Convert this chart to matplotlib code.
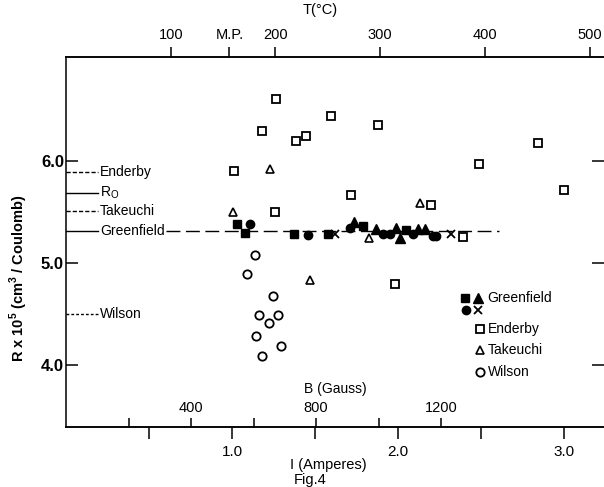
import matplotlib.pyplot as plt

plt.rcParams['font.family'] = ['Liberation Sans', 'DejaVu Sans']
plt.rcParams['font.size'] = 10
plt.rcParams['mathtext.fontset'] = 'custom'
plt.rcParams['mathtext.rm'] = 'Liberation Sans'
plt.rcParams['mathtext.bf'] = 'Liberation Sans:bold'

# current I (Amperes) and R x 10^5 for each source
enderby_i = [1.014, 1.18, 1.265, 1.26, 1.385, 1.446, 1.596, 1.715, 1.878, 1.98, 2.20, 2.39, 2.49, 2.842, 3.00]
enderby_r = [5.90, 6.29, 6.61, 5.50, 6.20, 6.24, 6.44, 5.67, 6.35, 4.80, 5.57, 5.26, 5.97, 6.18, 5.72]

takeuchi_i = [1.008, 1.23, 1.47, 1.825, 2.13]
takeuchi_r = [5.50, 5.92, 4.84, 5.25, 5.59]

wilson_i = [1.14, 1.09, 1.245, 1.165, 1.28, 1.225, 1.145, 1.293, 1.18]
wilson_r = [5.08, 4.89, 4.68, 4.49, 4.49, 4.41, 4.29, 4.19, 4.09]

green_sq_i = [1.03, 1.08, 1.375, 1.58, 1.79, 2.05]
green_sq_r = [5.385, 5.30, 5.29, 5.29, 5.36, 5.32]
green_ci_i = [1.108, 1.455, 1.71, 1.91, 1.95, 2.09, 2.21, 2.23]
green_ci_r = [5.385, 5.28, 5.34, 5.29, 5.29, 5.29, 5.27, 5.27]
green_tr_i = [1.735, 1.87, 1.99, 2.01, 2.12, 2.16]
green_tr_r = [5.40, 5.33, 5.34, 5.25, 5.33, 5.33]
green_x_i = [1.62, 2.32]
green_x_r = [5.29, 5.29]

# literature values marked on the left axis
ref_names = ['Enderby', 'R$_\\mathrm{O}$', 'Takeuchi', 'Greenfield', 'Wilson']
ref_values = [5.89, 5.69, 5.51, 5.31, 4.50]
ref_styles = [(0, (3, 1.5)), '-', (0, (3, 1.5)), '-', (0, (2, 1.5))]

# secondary scales
amp_ticks = [0.5, 1.0, 1.5, 2.0, 2.5, 3.0]
amp_labels = ['', '1.0', '', '2.0', '', '3.0']
gauss_ticks = [200, 400, 600, 800, 1000, 1200]
gauss_labels = ['', '400', '', '800', '', '1200']
temp_ticks = [100, 156, 200, 300, 400, 500]
temp_labels = ['100', 'M.P.', '200', '300', '400', '500']

fig = plt.figure(figsize=(6.04, 4.87), dpi=100)
ax = fig.add_axes([66 / 604, 1 - 426.7 / 487, 538 / 604, 370 / 487])
ax.set_xlim(0, 3.241)
ax.set_ylim(3.40, 7.02)

k = 'black'
ax.spines['right'].set_visible(False)
for s in ['left', 'top', 'bottom']:
    ax.spines[s].set_linewidth(1.1)

# reference lines
for name, v, ls in zip(ref_names, ref_values, ref_styles):
    ax.plot([0, 0.195], [v, v], color=k, lw=1.0, linestyle=ls)
    ax.text(0.205, v, name, va='center', ha='left', fontsize=10)
ax.plot([0.60, 2.61], [ref_values[3], ref_values[3]], color=k, lw=1.0, dashes=(10, 4))

ax.plot(enderby_i, enderby_r, 's', ms=5.5, mfc='white', mec=k, mew=1.3, ls='none')
ax.plot(takeuchi_i, takeuchi_r, '^', ms=6, mfc='white', mec=k, mew=1.2, ls='none')
ax.plot(wilson_i, wilson_r, 'o', ms=6, mfc='white', mec=k, mew=1.3, ls='none')
ax.plot(green_sq_i, green_sq_r, 's', ms=5.5, color=k, ls='none')
ax.plot(green_ci_i, green_ci_r, 'o', ms=6, color=k, ls='none')
ax.plot(green_tr_i, green_tr_r, '^', ms=6.5, color=k, ls='none')
ax.plot(green_x_i, green_x_r, 'x', ms=6, color=k, mew=1.3, ls='none')

# legend drawn by hand
def fx(px):
    return (px - 66) / 538


def fy(py):
    return (426.7 - py) / 370


leg = dict(transform=ax.transAxes, clip_on=False, ls='none')
ax.plot(fx(465), fy(298), 's', ms=5.5, color=k, **leg)
ax.plot(fx(478), fy(297.5), '^', ms=6.5, color=k, **leg)
ax.plot(fx(465.5), fy(309.5), 'o', ms=6, color=k, **leg)
ax.plot(fx(478), fy(310), 'x', ms=6, color=k, mew=1.3, **leg)
ax.plot(fx(480), fy(328.5), 's', ms=5.5, mfc='white', mec=k, mew=1.3, **leg)
ax.plot(fx(479.5), fy(350), '^', ms=6, mfc='white', mec=k, mew=1.2, **leg)
ax.plot(fx(480), fy(372), 'o', ms=6, mfc='white', mec=k, mew=1.3, **leg)
for txt, py in [('Greenfield', 298), ('Enderby', 328.5), ('Takeuchi', 350), ('Wilson', 372)]:
    ax.text(fx(487.5), fy(py), txt, transform=ax.transAxes, va='center', ha='left', fontsize=10)

# y axis
ax.set_yticks([4.0, 5.0, 6.0])
ax.set_yticklabels(['4.0', '5.0', '6.0'], fontsize=12, fontweight='bold')
ax.tick_params(axis='y', which='both', direction='in', length=8.6, width=1.1,
               left=True, right=True, pad=1.5)
ax.set_ylabel('R x 10$^\\mathbf{5}$ (cm$^\\mathbf{3}$ / Coulomb)', fontsize=10.5, fontweight='bold')
ax.yaxis.set_label_coords(-0.067, 0.40)

# bottom current axis
ax.set_xticks(amp_ticks)
ax.set_xticklabels(amp_labels, fontsize=11)
ax.tick_params(axis='x', direction='out', length=8.4, width=1.1, pad=4.5, top=False)
ax.set_xlabel('I (Amperes)', fontsize=10.5, labelpad=1)
ax.xaxis.set_label_coords(0.488, -0.085)

# bottom field axis, ticks pointing up
secb = ax.secondary_xaxis('bottom', functions=(lambda i: i * 531, lambda b: b / 531))
secb.set_alignment('top')
secb.set_xticks(gauss_ticks)
secb.set_xticklabels(gauss_labels, fontsize=10.5)
secb.tick_params(axis='x', direction='out', length=6.5, width=1.1, pad=2)
secb.set_xlabel('B (Gauss)', fontsize=10, labelpad=6)
secb.spines['top'].set_linewidth(1.1)

# top temperature axis
sect = ax.secondary_xaxis('top', functions=(lambda i: i * 158.5, lambda t: t / 158.5))
sect.set_xticks(temp_ticks)
sect.set_xticklabels(temp_labels, fontsize=10.5)
sect.tick_params(axis='x', direction='out', length=7.2, width=1.1, pad=3.5)
sect.set_xlabel('T(°C)', fontsize=10.5, labelpad=10)
sect.xaxis.label.set_x(0.472)
sect.spines['top'].set_linewidth(1.1)

fig.text(310 / 604, 1 - 480 / 487, 'Fig.4', ha='center', va='center', fontsize=10.5)

fig.savefig('out.png', dpi=100)
